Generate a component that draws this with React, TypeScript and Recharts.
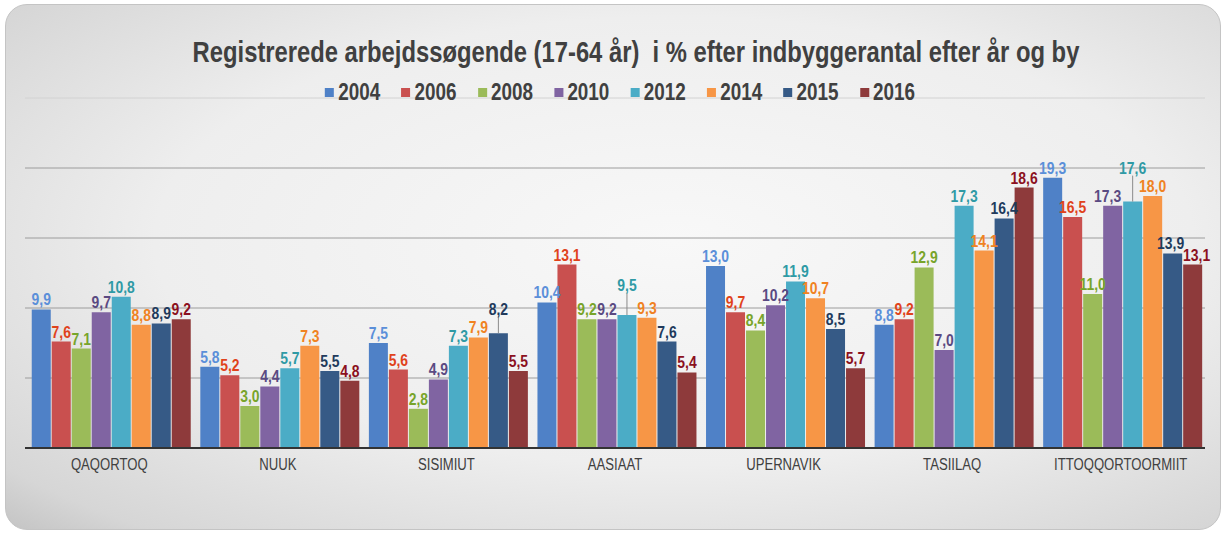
import { BarChart, Bar, XAxis, YAxis, CartesianGrid, LabelList } from 'recharts';

const cities = ['QAQORTOQ', 'NUUK', 'SISIMIUT', 'AASIAAT', 'UPERNAVIK', 'TASIILAQ', 'ITTOQQORTOORMIIT'];
const years = ['2004', '2006', '2008', '2010', '2012', '2014', '2015', '2016'];

const v2004 = [9.9, 5.8, 7.5, 10.4, 13.0, 8.8, 19.3];
const v2006 = [7.6, 5.2, 5.6, 13.1, 9.7, 9.2, 16.5];
const v2008 = [7.1, 3.0, 2.8, 9.2, 8.4, 12.9, 11.0];
const v2010 = [9.7, 4.4, 4.9, 9.2, 10.2, 7.0, 17.3];
const v2012 = [10.8, 5.7, 7.3, 9.5, 11.9, 17.3, 17.6];
const v2014 = [8.8, 7.3, 7.9, 9.3, 10.7, 14.1, 18.0];
const v2015 = [8.9, 5.5, 8.2, 7.6, 8.5, 16.4, 13.9];
const v2016 = [9.2, 4.8, 5.5, 5.4, 5.7, 18.6, 13.1];

const yTicks = [0, 5, 10, 15, 20, 25];

const series = [v2004, v2006, v2008, v2010, v2012, v2014, v2015, v2016];
const barColors = ['#4f81c7', '#c9504f', '#9bbb59', '#8064a2', '#4bacc6', '#f79646', '#365a86', '#8e3a3b'];
const labelColors = ['#5b8fd9', '#e0421b', '#78a42a', '#5a4a82', '#2f9aa5', '#f08222', '#213a5c', '#8b1020'];

// labels that Excel pulled up with a leader line (px)
const labelLift: Record<string, number> = {
  'SISIMIUT|2015': 14,
  'AASIAAT|2012': 20,
  'ITTOQQORTOORMIIT|2012': 24,
};
const labelShift: Record<string, number> = {
  'ITTOQQORTOORMIIT|2010': -5,
  'ITTOQQORTOORMIIT|2015': -2,
  'ITTOQQORTOORMIIT|2016': 4,
};

const data = cities.map((city, i) => {
  const row: any = { city };
  years.forEach((y, j) => { row[y] = series[j][i]; });
  return row;
});

// no Arial Narrow here, so squeeze Liberation Sans horizontally
const FONT = "'Liberation Sans', Arial, sans-serif";
const NARROW = 0.82;
const fmt = (v: any) => Number(v).toFixed(1).replace('.', ',');

function makeLabel(year: string, color: string) {
  return (props: any) => {
    const { x, y, width, value, index } = props;
    const key = cities[index] + '|' + year;
    const lift = labelLift[key] || 0;
    const cx = Number(x) + Number(width) / 2;
    const tx = cx + (labelShift[key] || 0);
    const ty = Number(y) - 4 - lift;
    return (
      <g>
        {lift > 0 && <line x1={cx} y1={Number(y)} x2={cx} y2={ty + 2} stroke="#8a8a8a" strokeWidth={1} />}
        <text
          transform={`translate(${tx},${ty}) scale(${NARROW},1)`}
          textAnchor="middle"
          fill={color}
          fontFamily={FONT}
          fontWeight={700}
          fontSize={17}
        >
          {fmt(value)}
        </text>
      </g>
    );
  };
}

function CityTick(props: any) {
  const { x, y, payload } = props;
  return (
    <text
      transform={`translate(${x},${y + 14}) scale(${NARROW},1)`}
      textAnchor="middle"
      fill="#404040"
      fontFamily={FONT}
      fontSize={16}
    >
      {payload.value}
    </text>
  );
}

function GridLine(p: any) {
  const top = Number(p.y1) < 110;
  return (
    <line
      key={'g' + p.index}
      x1={p.x1}
      x2={p.x2}
      y1={p.y1}
      y2={p.y2}
      stroke={top ? '#d2d2d2' : '#9c9c9c'}
      strokeWidth={1}
    />
  );
}

function ChartLegend() {
  return (
    <div
      style={{
        position: 'absolute', left: 0, top: 80, width: 1240, display: 'flex', justifyContent: 'center',
        transform: `scaleX(${NARROW})`, transformOrigin: '620px 0',
        fontFamily: FONT, fontWeight: 700, fontSize: 23, lineHeight: '24px', color: '#404040',
      }}
    >
      {years.map((y, i) => (
        <div key={y} style={{ display: 'flex', alignItems: 'center', marginLeft: 13, marginRight: 13 }}>
          <span style={{ width: 11, height: 9, background: barColors[i], marginRight: 5, display: 'inline-block' }} />
          <span>{y}</span>
        </div>
      ))}
    </div>
  );
}

export default function App() {
  return (
    <div style={{ position: 'absolute', left: 0, top: 0, width: 1227, height: 537, background: '#fff', overflow: 'hidden' }}>
      <div
        style={{
          position: 'absolute', left: 5, top: 4, width: 1214, height: 524, borderRadius: 22,
          border: '1px solid #c4c4c4',
          background: 'radial-gradient(ellipse at 55% 45%, #f8f8f8 0%, #eeeeee 55%, #d6d6d6 90%, #c4c4c4 100%)',
        }}
      />
      <div
        style={{
          position: 'absolute', left: 0, top: 37, width: 1272, textAlign: 'center',
          transform: `scaleX(${NARROW})`, transformOrigin: '636px 0',
          fontFamily: FONT, fontWeight: 700, fontSize: 29, lineHeight: '30px', color: '#404040', whiteSpace: 'pre',
        }}
      >
        {'Registrerede arbejdssøgende (17-64 år)  i % efter indbyggerantal efter år og by'}
      </div>
      <div style={{ position: 'absolute', left: 0, top: 0 }}>
        <BarChart width={1227} height={537} data={data} margin={{ top: 98, right: 22, bottom: 59, left: 25 }} barGap={1} barCategoryGap="4%">
          <CartesianGrid vertical={false} horizontal={GridLine} />
          <XAxis
            dataKey="city"
            height={30}
            axisLine={{ stroke: '#333', strokeWidth: 2 }}
            tickLine={false}
            tick={<CityTick />}
            interval={0}
          />
          <YAxis hide domain={[0, 25]} ticks={yTicks} />
          {years.map((y, i) => (
            <Bar key={y} dataKey={y} fill={barColors[i]} isAnimationActive={false}>
              <LabelList dataKey={y} position="top" content={makeLabel(y, labelColors[i])} />
            </Bar>
          ))}
        </BarChart>
      </div>
      <ChartLegend />
    </div>
  );
}
